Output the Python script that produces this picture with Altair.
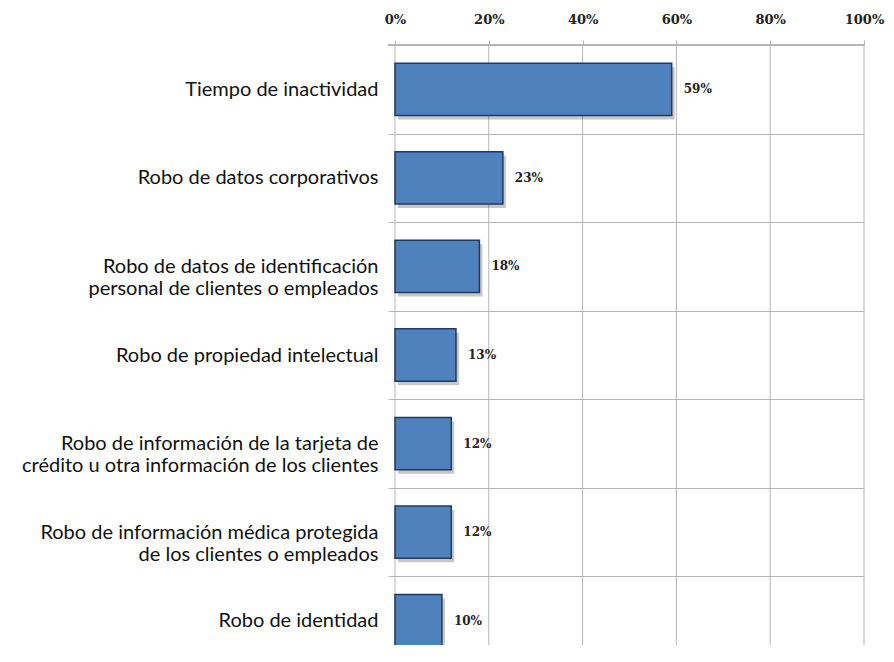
import altair as alt
import pandas as pd

categories = [
    "Tiempo de inactividad",
    "Robo de datos corporativos",
    "Robo de datos de identificación|personal de clientes o empleados",
    "Robo de propiedad intelectual",
    "Robo de información de la tarjeta de|crédito u otra información de los clientes",
    "Robo de información médica protegida|de los clientes o empleados",
    "Robo de identidad",
]
values = [0.59, 0.23, 0.18, 0.13, 0.12, 0.12, 0.10]
grid_ticks = [0, 0.2, 0.4, 0.6, 0.8, 1.0]

df = pd.DataFrame({"cat": categories, "val": values})
grid_df = pd.DataFrame({"g": grid_ticks})

GRID = "#B5B5B5"
yscale = alt.Scale(domain=categories, range=[0, 620], paddingInner=0, paddingOuter=0)
xscale = alt.Scale(domain=[0, 1], nice=False)

x_axis = alt.Axis(
    orient="top", format="%", values=grid_ticks, grid=False, domain=False,
    tickSize=5, tickColor=GRID, labelFont="DejaVu Serif", labelFontWeight="bold",
    labelFontSize=13, labelColor="#222222", labelPadding=14, labelFlush=False, title=None,
)
y_axis = alt.Axis(
    orient="left", title=None, domain=False, ticks=True, tickSize=7, tickColor=GRID,
    tickBand="extent", grid=True, gridColor=GRID, labelFont="Lato", labelFontSize=20,
    labelColor="#111111", labelPadding=10, labelExpr="split(datum.label, '|')",
    labelLineHeight=22, labelLimit=450,
)

grid = alt.Chart(grid_df).mark_rule(color=GRID, strokeWidth=1).encode(
    x=alt.X("g:Q", scale=xscale, axis=x_axis),
    y=alt.value(0),
    y2=alt.value(620),
)

top_line = alt.Chart(grid_df).mark_rule(color=GRID, strokeWidth=1).encode(
    x=alt.value(-7), x2=alt.value(469), y=alt.value(0)
)

X = alt.X("val:Q", scale=xscale, axis=x_axis)
Y = alt.Y("cat:N", scale=yscale, sort=None, axis=y_axis)

BAND = {"band": 0.59}

shadow = alt.Chart(df).mark_bar(
    color="#000000", opacity=0.22, height=BAND, xOffset=3, x2Offset=3, yOffset=4, y2Offset=4
).encode(x=X, y=Y)

bars = alt.Chart(df).mark_bar(
    color="#4F81BD", stroke="#1F3A60", strokeWidth=1.5, height=BAND
).encode(x=X, y=Y)

labels = alt.Chart(df).mark_text(
    align="left", dx=12, font="DejaVu Serif", fontWeight="bold", fontSize=12, color="#222222"
).encode(x=X, y=Y, text=alt.Text("val:Q", format=".0%"))

chart = alt.layer(grid, top_line, shadow, bars, labels).properties(
    width=469, height=600,
    padding={"left": 387, "top": 37, "right": 22, "bottom": 0},
    autosize=alt.AutoSizeParams(type="none"),
    background="white",
).configure_view(stroke=None)

chart.save("out.html", embed_options={"renderer": "svg", "actions": False})
